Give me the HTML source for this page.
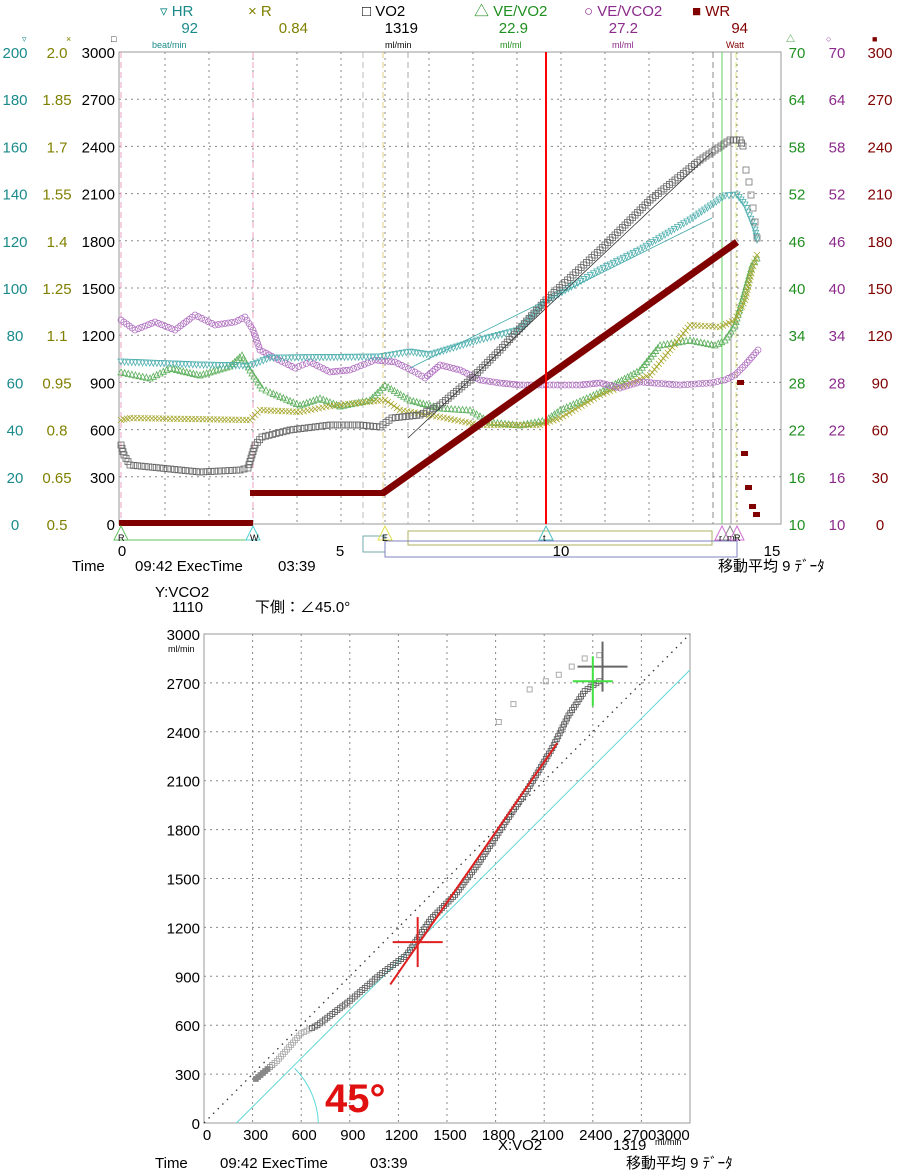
<!DOCTYPE html>
<html><head><meta charset="utf-8"><style>
html,body{margin:0;padding:0;background:#fff;}
svg{display:block;font-family:"Liberation Sans","Noto Sans CJK JP",sans-serif;}
</style></head><body>
<svg id="s" width="900" height="1174" viewBox="0 0 900 1174" xmlns="http://www.w3.org/2000/svg">
<rect width="900" height="1174" fill="#fff"/>
<g font-size="15">
<text x="160" y="16" fill="#1a8a8a">▿ HR</text>
<text x="248" y="16" fill="#808000">× R</text>
<text x="362" y="16" fill="#000">□ VO2</text>
<text x="474" y="16" fill="#1f8f1f">△ VE/VO2</text>
<text x="584" y="16" fill="#8b2a8b">○ VE/VCO2</text>
<text x="692" y="16" fill="#800000">■ WR</text>
<text x="198" y="33" fill="#1a8a8a" text-anchor="end">92</text>
<text x="308" y="33" fill="#808000" text-anchor="end">0.84</text>
<text x="418" y="33" fill="#000" text-anchor="end">1319</text>
<text x="528" y="33" fill="#1f8f1f" text-anchor="end">22.9</text>
<text x="638" y="33" fill="#8b2a8b" text-anchor="end">27.2</text>
<text x="748" y="33" fill="#800000" text-anchor="end">94</text>
</g>
<g font-size="9">
<text x="152" y="48" fill="#1a8a8a">beat/min</text>
<text x="385" y="48" fill="#000">ml/min</text>
<text x="500" y="48" fill="#1f8f1f">ml/ml</text>
<text x="612" y="48" fill="#8b2a8b">ml/ml</text>
<text x="726" y="48" fill="#800000">Watt</text>
<text x="22" y="42" fill="#1a8a8a">▿</text><text x="66" y="42" fill="#808000">×</text><text x="111" y="42" fill="#000">□</text>
<text x="786" y="42" fill="#1f8f1f">△</text><text x="826" y="42" fill="#8b2a8b">○</text><text x="872" y="42" fill="#800000">■</text>
</g>
<g id="top"></g>
<g id="bot"></g>
<g font-size="15" fill="#000">
<text x="72" y="571">Time</text><text x="135" y="571">09:42 ExecTime</text><text x="278" y="571">03:39</text>
<text x="718" y="571">移動平均 9 ﾃﾞｰﾀ</text>
<text x="155" y="597">Y:VCO2</text><text x="172" y="612">1110</text><text x="255" y="612">下側：∠45.0°</text>
<text x="155" y="1168">Time</text><text x="220" y="1168">09:42 ExecTime</text><text x="370" y="1168">03:39</text>
<text x="626" y="1168">移動平均 9 ﾃﾞｰﾀ</text>
<text x="498" y="1150">X:VO2</text><text x="613" y="1150">1319</text>
</g>
<text x="655" y="1145" font-size="9">ml/min</text>
<text x="168" y="652" font-size="9">ml/min</text>
<text x="325" y="1112" font-size="40" font-weight="bold" fill="#e01010">45°</text>
</svg>
<script>
var NS="http://www.w3.org/2000/svg",top_=document.getElementById("top"),bot=document.getElementById("bot");
function el(p,t,a,txt){var e=document.createElementNS(NS,t);for(var k in a)e.setAttribute(k,a[k]);if(txt!=null)e.textContent=txt;p.appendChild(e);return e;}
var L=119,R=781,T=52,B=524;
for(var i=1;i<10;i++){var y=T+i*47.2;el(top_,"line",{x1:L,x2:R,y1:y,y2:y,stroke:"#888","stroke-dasharray":"2,4","stroke-width":1});}
for(var t=1;t<15;t++){var x=121+44*t;el(top_,"line",{x1:x,x2:x,y1:T,y2:B,stroke:"#888","stroke-dasharray":"2,4","stroke-width":1});}
el(top_,"rect",{x:L,y:T,width:R-L,height:B-T,fill:"none",stroke:"#999"});
var hr=[200,180,160,140,120,100,80,60,40,20,0],rr=["2.0","1.85","1.7","1.55","1.4","1.25","1.1","0.95","0.8","0.65","0.5"],vo=[3000,2700,2400,2100,1800,1500,1200,900,600,300,0],ve=[70,64,58,52,46,40,34,28,22,16,10],wr=[300,270,240,210,180,150,120,90,60,30,0];
for(var i=0;i<11;i++){var y=T+i*47.2+6;
el(top_,"text",{x:15,y:y,"font-size":15,fill:"#1a8a8a","text-anchor":"middle"},hr[i]);
el(top_,"text",{x:57,y:y,"font-size":15,fill:"#808000","text-anchor":"middle"},rr[i]);
el(top_,"text",{x:115,y:y,"font-size":15,fill:"#000","text-anchor":"end"},vo[i]);
el(top_,"text",{x:797,y:y,"font-size":15,fill:"#1f8f1f","text-anchor":"middle"},ve[i]);
el(top_,"text",{x:837,y:y,"font-size":15,fill:"#8b2a8b","text-anchor":"middle"},ve[i]);
el(top_,"text",{x:880,y:y,"font-size":15,fill:"#800000","text-anchor":"middle"},wr[i]);}
[[0,122],[5,340],[10,561],[15,772]].forEach(function(a){el(top_,"text",{x:a[1],y:556,"font-size":15,"text-anchor":"middle"},a[0]);});
[[121,"#e8a0c0",1],[253,"#e8a0c0",1],[363,"#bbb",1],[383,"#e0d080",1],[408,"#aaa",1],[713,"#888",1],[736,"#e0e080",1]].forEach(function(v){el(top_,"line",{x1:v[0],x2:v[0],y1:T,y2:B,stroke:v[1],"stroke-dasharray":"6,4","stroke-width":v[2]});});
el(top_,"line",{x1:722,x2:722,y1:T,y2:B,stroke:"#60d060"});
el(top_,"line",{x1:731,x2:731,y1:T,y2:B,stroke:"#999"});
function interp(pts,step){var out=[];for(var i=0;i<pts.length-1;i++){var a=pts[i],b=pts[i+1],d=Math.hypot(b[0]-a[0],b[1]-a[1]),n=Math.max(1,Math.round(d/step));for(var j=0;j<n;j++)out.push([a[0]+(b[0]-a[0])*j/n,a[1]+(b[1]-a[1])*j/n]);}out.push(pts[pts.length-1]);return out;}
function mark(g,p,type,c,s){s=s||3;var x=p[0],y=p[1];
if(type=="sq")el(g,"rect",{x:x-s,y:y-s,width:2*s,height:2*s,fill:"none",stroke:c,"stroke-width":0.8});
else if(type=="ci")el(g,"circle",{cx:x,cy:y,r:s,fill:"none",stroke:c,"stroke-width":0.8});
else if(type=="tu")el(g,"polygon",{points:(x)+","+(y-s)+" "+(x-s)+","+(y+s)+" "+(x+s)+","+(y+s),fill:"none",stroke:c,"stroke-width":0.8});
else if(type=="td")el(g,"polygon",{points:(x)+","+(y+s)+" "+(x-s)+","+(y-s)+" "+(x+s)+","+(y-s),fill:"none",stroke:c,"stroke-width":0.8});
else if(type=="x"){el(g,"path",{d:"M"+(x-s)+" "+(y-s)+"L"+(x+s)+" "+(y+s)+"M"+(x+s)+" "+(y-s)+"L"+(x-s)+" "+(y+s),stroke:c,"stroke-width":0.8});}}
function series(pts,type,c,step){interp(pts,step||3.6).forEach(function(p){mark(top_,p,type,c);});}
series([[121,372],[150,378],[170,368],[200,375],[230,366],[242,355],[250,370],[262,388],[270,392],[300,405],[320,398],[340,406],[370,400],[385,385],[410,400],[440,408],[470,410],[490,422],[520,425],[546,420],[560,410],[600,392],[640,370],[660,345],[690,340],[715,345],[725,340],[735,325],[745,290],[752,265],[757,258]],"tu","#5aae5a");
series([[121,420],[130,418],[250,420],[260,410],[300,412],[330,406],[385,400],[400,410],[440,417],[480,425],[540,425],[560,418],[600,395],[650,375],[690,325],[720,327],[735,320],[745,300],[752,270],[757,255]],"x","#a8a830");
series([[121,320],[135,330],[155,322],[175,330],[195,315],[215,325],[235,322],[245,317],[253,330],[260,350],[275,358],[295,368],[310,362],[330,372],[350,370],[375,360],[395,362],[415,372],[425,378],[440,365],[460,370],[480,380],[500,383],[520,385],[546,385],[580,385],[600,383],[620,388],[640,382],[680,385],[710,383],[725,380],[735,375],[745,365],[758,350]],"ci","#b070c0");
series([[121,362],[200,365],[250,366],[270,358],[380,357],[410,352],[430,355],[480,340],[520,330],[546,302],[600,270],[640,250],[690,220],[725,196],[737,195],[745,205],[755,230],[757,240]],"td","#50b0b0");
series([[121,445],[124,455],[130,465],[160,468],[200,472],[240,470],[248,468],[255,445],[262,437],[290,430],[330,425],[360,425],[380,427],[392,418],[420,415],[440,405],[470,380],[500,350],[546,300],[600,250],[650,200],[700,160],[730,140],[740,140],[743,146]],"sq","#666");
[[746,170],[749,182],[751,195],[753,208],[755,222],[757,238]].forEach(function(p){mark(top_,p,"sq","#777");});
el(top_,"line",{x1:408,y1:438,x2:712,y2:152,stroke:"#333","stroke-width":0.8});
el(top_,"line",{x1:410,y1:368,x2:712,y2:218,stroke:"#40a8a8","stroke-width":0.8});
el(top_,"rect",{x:119,y:520,width:134,height:6,fill:"#800000"});
el(top_,"rect",{x:250,y:490,width:135,height:6,fill:"#800000"});
el(top_,"path",{d:"M383 493 L737 242",stroke:"#800000","stroke-width":7});
[[740,383],[744,454],[748,488],[752,507],[756,515]].forEach(function(p){el(top_,"rect",{x:p[0]-3,y:p[1]-3,width:7,height:5,fill:"#800000"});});
el(top_,"line",{x1:546,x2:546,y1:T,y2:B,stroke:"#ff0000","stroke-width":2});
el(top_,"line",{x1:121,x2:253,y1:540,y2:540,stroke:"#60c060"});
el(top_,"rect",{x:363,y:536,width:22,height:16,fill:"none",stroke:"#70a8a8"});
el(top_,"rect",{x:408,y:531,width:304,height:14,fill:"none",stroke:"#b0b060"});
el(top_,"line",{x1:385,x2:737,y1:541,y2:541,stroke:"#8080c0"});
el(top_,"rect",{x:385,y:541,width:352,height:16,fill:"none",stroke:"#8080c0"});
[[121,"#60c060","R"],[253,"#50d0d0","W"],[385,"#e0e050","E"],[546,"#50c0c0","t"],[722,"#d070d0","r"],[730,"#888","m"],[737,"#d070d0","R"]].forEach(function(m){el(top_,"polygon",{points:m[0]+",526 "+(m[0]-7)+",540 "+(m[0]+7)+",540",fill:"none",stroke:m[1]});el(top_,"text",{x:m[0]-3,y:541,"font-size":9},m[2]);});
var X0=204,X1=690,Y0=1123,Y1=634;function bx(v){return X0+(X1-X0)*v/3000;}function by(v){return Y0-(Y0-Y1)*v/3000;}
for(var v=300;v<3000;v+=300){el(bot,"line",{x1:bx(v),x2:bx(v),y1:Y1,y2:Y0,stroke:"#888","stroke-dasharray":"2,4"});el(bot,"line",{x1:X0,x2:X1,y1:by(v),y2:by(v),stroke:"#888","stroke-dasharray":"2,4"});}
el(bot,"rect",{x:X0,y:Y1,width:X1-X0,height:Y0-Y1,fill:"none",stroke:"#999"});
for(var v=0;v<=3000;v+=300){el(bot,"text",{x:200,y:by(v)+6,"font-size":15,"text-anchor":"end"},v);if(v<2700)el(bot,"text",{x:bx(v)+3,y:1140,"font-size":15,"text-anchor":"middle"},v);}
el(bot,"text",{x:bx(2700)+15,y:1140,"font-size":15,"text-anchor":"middle"},"27003000");
el(bot,"line",{x1:bx(0),y1:by(0),x2:bx(3000),y2:by(3000),stroke:"#333","stroke-dasharray":"1.5,5","stroke-width":1.3});
el(bot,"line",{x1:bx(200),y1:by(0),x2:bx(3000),y2:by(2780),stroke:"#60d8d8"});
el(bot,"path",{d:"M"+bx(560)+" "+by(335)+" A 82 82 0 0 1 "+bx(706)+" "+by(0),fill:"none",stroke:"#60d8d8"});
var cur=interp([[320,270],[450,380],[600,550],[700,600],[900,750],[1100,920],[1250,1030],[1400,1250],[1550,1400],[1700,1600],[1850,1830],[2000,2050],[2150,2300],[2250,2500],[2350,2650],[2440,2710]].map(function(p){return[bx(p[0]),by(p[1])];}),3.2);
cur.forEach(function(p,i){var c=i<8?"#888":(i<25?"#aaa":"#555");el(bot,"rect",{x:p[0]-2.5,y:p[1]-2.5,width:5,height:5,fill:i<6?"#888":"none",stroke:c,"stroke-width":0.8});});
[[1820,2460],[1910,2570],[2010,2660],[2110,2710],[2190,2750],[2270,2800],[2350,2850],[2440,2870]].forEach(function(p){el(bot,"rect",{x:bx(p[0])-2.5,y:by(p[1])-2.5,width:5,height:5,fill:"none",stroke:"#aaa"});});
el(bot,"line",{x1:bx(1150),y1:by(850),x2:bx(2180),y2:by(2330),stroke:"#e02020","stroke-width":2});
function cross(x,y,w,h,c,sw){el(bot,"line",{x1:x-w,x2:x+w,y1:y,y2:y,stroke:c,"stroke-width":sw});el(bot,"line",{x1:x,x2:x,y1:y-h,y2:y+h,stroke:c,"stroke-width":sw});}
cross(bx(1319),by(1110),25,25,"#e02020",2);
cross(bx(2460),by(2800),25,25,"#666",2);
cross(bx(2400),by(2710),20,25,"#40e040",2);
</script>
</body></html>
